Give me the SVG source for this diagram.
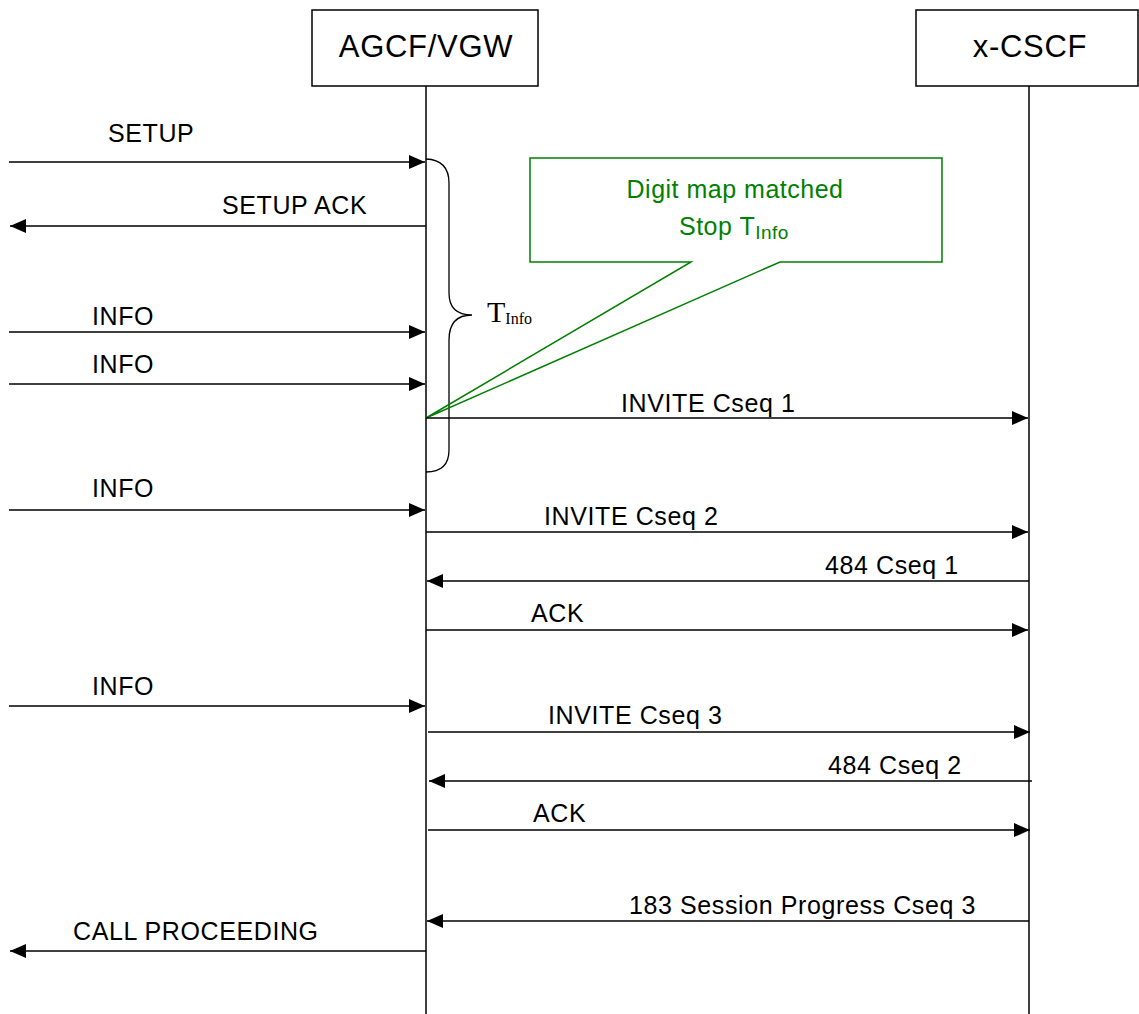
<svg xmlns="http://www.w3.org/2000/svg" width="1139" height="1014" viewBox="0 0 1139 1014">
<defs>
<marker id="ah" markerUnits="userSpaceOnUse" markerWidth="17" markerHeight="16" refX="16" refY="7" orient="auto">
<path d="M0,0 L16,7 L0,14 Z" fill="#000"/>
</marker>
<style>
.box{fill:#fff;stroke:#000;stroke-width:1.5}
.life{stroke:#000;stroke-width:1.5;fill:none}
.msg{stroke:#000;stroke-width:1.5;fill:none;marker-end:url(#ah)}
.lbl{font-family:"Liberation Sans",Arial,sans-serif;font-size:25px;letter-spacing:0.6px;fill:#000}
.ttl{font-family:"Liberation Sans",Arial,sans-serif;font-size:31px;letter-spacing:0.7px;fill:#000;text-anchor:middle}
.grn{font-family:"Liberation Sans",Arial,sans-serif;font-size:25px;letter-spacing:0.5px;fill:#008000}
.ser{font-family:"Liberation Serif","Times New Roman",serif;fill:#000}
</style>
</defs>
<rect width="1139" height="1014" fill="#fff"/>
<g id="agcf">
<rect class="box" x="312" y="10" width="226" height="76"/>
<text class="ttl" x="426" y="57">AGCF/VGW</text>
<line class="life" x1="426" y1="86" x2="426" y2="1014"/>
</g>
<g id="xcscf">
<rect class="box" x="916" y="10" width="222" height="76"/>
<text class="ttl" x="1030" y="57">x-CSCF</text>
<line class="life" x1="1029" y1="86" x2="1029" y2="1014"/>
</g>
<g id="tinfo">
<path d="M426,159 Q449,160 449,183 L449,293 Q449,315 472,315 Q449,315 449,340 L449,450 Q449,472 426,472" fill="none" stroke="#000" stroke-width="1.3"/>
<text class="ser" x="487" y="322" font-size="30">T<tspan font-size="16" dy="2">Info</tspan></text>
</g>
<g id="note">
<path d="M691,262 L530,262 L530,158 L942,158 L942,262 L780,262 L426,418 Z" fill="none" stroke="#008000" stroke-width="1.5"/>
<text class="grn" x="735" y="198" text-anchor="middle">Digit map matched</text>
<text class="grn" x="679" y="235">Stop T<tspan font-size="19" dy="4">Info</tspan></text>
</g>
<g id="connectors">
<line class="msg" x1="9" y1="162" x2="425" y2="162"/>
<text class="lbl" x="108" y="142">SETUP</text>
<line class="msg" x1="426" y1="226" x2="10" y2="226"/>
<text class="lbl" x="222" y="214">SETUP ACK</text>
<line class="msg" x1="9" y1="332" x2="425" y2="332"/>
<text class="lbl" x="92" y="325">INFO</text>
<line class="msg" x1="9" y1="384" x2="425" y2="384"/>
<text class="lbl" x="92" y="373">INFO</text>
<line class="msg" x1="426" y1="418" x2="1028" y2="418"/>
<text class="lbl" x="621" y="412">INVITE Cseq 1</text>
<line class="msg" x1="9" y1="510" x2="425" y2="510"/>
<text class="lbl" x="92" y="497">INFO</text>
<line class="msg" x1="426" y1="532" x2="1028" y2="532"/>
<text class="lbl" x="544" y="525">INVITE Cseq 2</text>
<line class="msg" x1="1029" y1="581" x2="427" y2="581"/>
<text class="lbl" x="825" y="574">484 Cseq 1</text>
<line class="msg" x1="426" y1="630" x2="1028" y2="630"/>
<text class="lbl" x="531" y="622">ACK</text>
<line class="msg" x1="9" y1="706" x2="425" y2="706"/>
<text class="lbl" x="92" y="695">INFO</text>
<line class="msg" x1="428" y1="732" x2="1030" y2="732"/>
<text class="lbl" x="548" y="724">INVITE Cseq 3</text>
<line class="msg" x1="1032" y1="781" x2="429" y2="781"/>
<text class="lbl" x="828" y="774">484 Cseq 2</text>
<line class="msg" x1="428" y1="830" x2="1030" y2="830"/>
<text class="lbl" x="533" y="822">ACK</text>
<line class="msg" x1="1029" y1="921" x2="427" y2="921"/>
<text class="lbl" x="629" y="914">183 Session Progress Cseq 3</text>
<line class="msg" x1="426" y1="951" x2="10" y2="951"/>
<text class="lbl" x="73" y="940">CALL PROCEEDING</text>
</g>
</svg>
